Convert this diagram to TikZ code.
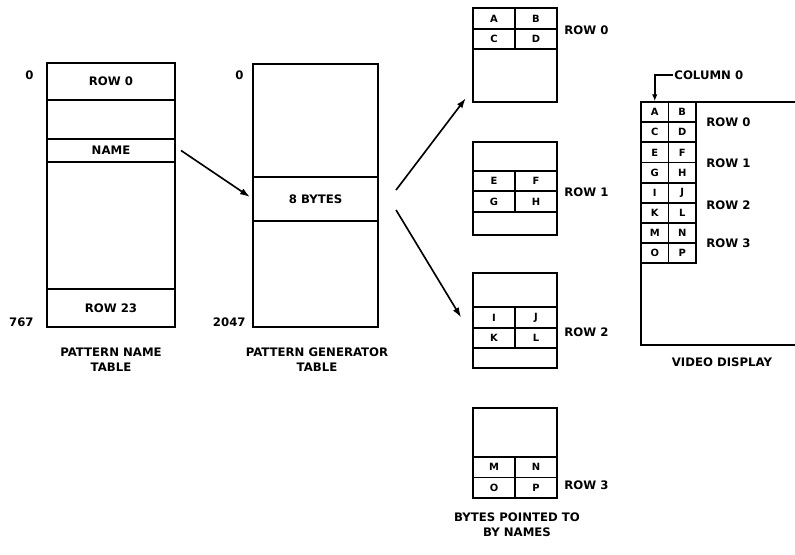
\documentclass[tikz,border=0pt]{standalone}
\usepackage{fontspec}
\setmainfont{DejaVu Sans}
\newcommand{\pxu}{0.03cm}
\newcommand{\lblfont}{\fontsize{10}{12.5}\selectfont\bfseries}
\newcommand{\cellfont}{\fontsize{8.5}{9}\selectfont\bfseries}

\tikzset{
  tbl/.style={draw, line width=2pt, inner sep=0pt},
  fld/.style={draw, line width=1.8pt, inner sep=0pt, font=\lblfont},
  cell/.style={draw, line width=1.5pt, inner sep=0pt, font=\cellfont,
    minimum width=42*\pxu, minimum height=20.5*\pxu},
  vcell/.style={draw, line width=1.5pt, inner sep=0pt, font=\cellfont,
    minimum width=27.5*\pxu, minimum height=20.15*\pxu},
  lbl/.style={font=\lblfont, inner sep=1pt, align=center},
  arr/.style={-{Latex[length=3mm, width=2mm]}, line width=1.4pt}
}
\usetikzlibrary{arrows.meta}

\begin{document}
\begin{tikzpicture}[x=0.03cm, y=-0.03cm]
  \useasboundingbox (0,0) rectangle (795,554);

  % Pattern name table
  \node[tbl, minimum width=128*\pxu, minimum height=264*\pxu] (pnt) at (111,195) {};
  \node[fld, minimum width=128*\pxu, minimum height=37*\pxu] (prow0) at (111,81.5) {ROW 0};
  \node[fld, minimum width=128*\pxu, minimum height=23*\pxu] (name) at (111,150.5) {NAME};
  \node[fld, minimum width=128*\pxu, minimum height=38*\pxu] (prow23) at (111,308) {ROW 23};
  \node[lbl, anchor=east] (pn0) at (35,75) {0};
  \node[lbl, anchor=east] (pn767) at (35,322) {767};
  \node[lbl] (pntcap) at (111,359.5) {PATTERN NAME\\TABLE};

  % Pattern generator table
  \node[tbl, minimum width=125*\pxu, minimum height=263*\pxu] (pgt) at (315.5,195.5) {};
  \node[fld, minimum width=125*\pxu, minimum height=44*\pxu] (bytes) at (315.5,199) {8 BYTES};
  \node[lbl, anchor=east] (pg0) at (245,75) {0};
  \node[lbl, anchor=east] (pg2047) at (247,322) {2047};
  \node[lbl] (pgtcap) at (317,359.5) {PATTERN GENERATOR\\TABLE};

  % Bytes pointed to by names
  \node[tbl, minimum width=84*\pxu, minimum height=94*\pxu] (box0) at (515,55) {};
  \node[tbl, minimum width=84*\pxu, minimum height=93*\pxu] (box1) at (515,188.5) {};
  \node[tbl, minimum width=84*\pxu, minimum height=95*\pxu] (box2) at (515,320.5) {};
  \node[tbl, minimum width=84*\pxu, minimum height=90*\pxu] (box3) at (515,453) {};
  \foreach \p/\q/\r/\s/\ya/\yb in {A/B/C/D/18.5/39, E/F/G/H/181/201.5,
      I/J/K/L/317.5/338, M/N/O/P/467.25/487.75} {
    \node[cell] (s\p) at (494,\ya) {\p};
    \node[cell] (s\q) at (536,\ya) {\q};
    \node[cell] (s\r) at (494,\yb) {\r};
    \node[cell] (s\s) at (536,\yb) {\s};
  }
  \node[lbl, anchor=west] (brow0) at (563,30) {ROW 0};
  \node[lbl, anchor=west] (brow1) at (563,192) {ROW 1};
  \node[lbl, anchor=west] (brow2) at (563,332) {ROW 2};
  \node[lbl, anchor=west] (brow3) at (563,485) {ROW 3};
  \node[lbl] (bcap) at (517,525) {BYTES POINTED TO\\BY NAMES};

  % Video display
  \coordinate (vtl) at (641,102);
  \coordinate (vtr) at (800,102);
  \coordinate (vbl) at (641,345);
  \coordinate (vbr) at (800,345);
  \draw[line width=2pt] (vtr) -- (vtl) -- (vbl) -- (vbr);
  \foreach \l/\r [count=\i from 0] in {A/B,C/D,E/F,G/H,I/J,K/L,M/N,O/P} {
    \node[vcell] (v\l) at (654.75,{112.1+20.15*\i}) {\l};
    \node[vcell] (v\r) at (682.25,{112.1+20.15*\i}) {\r};
  }
  \node[lbl, anchor=west] (vrow0) at (705,122) {ROW 0};
  \node[lbl, anchor=west] (vrow1) at (705,163) {ROW 1};
  \node[lbl, anchor=west] (vrow2) at (705,205) {ROW 2};
  \node[lbl, anchor=west] (vrow3) at (705,243) {ROW 3};
  \node[lbl, anchor=west] (col0) at (673,75) {COLUMN 0};
  \node[lbl] (vcap) at (722,362) {VIDEO DISPLAY};

  % Pointers
  \draw[arr] ([xshift=5*\pxu]name.east) -- ([shift={(-2,-2)}]bytes.west);
  \draw[arr] ([shift={(17,-9)}]bytes.east) -- ([shift={(-6,-5)}]box0.south west);
  \draw[arr] ([shift={(17,11)}]bytes.east) -- ([xshift=-11*\pxu]sI.west);
  \draw[-{Latex[length=2mm, width=1.6mm]}, line width=1.4pt] (col0.west) -| (vA.north);
\end{tikzpicture}
\end{document}
